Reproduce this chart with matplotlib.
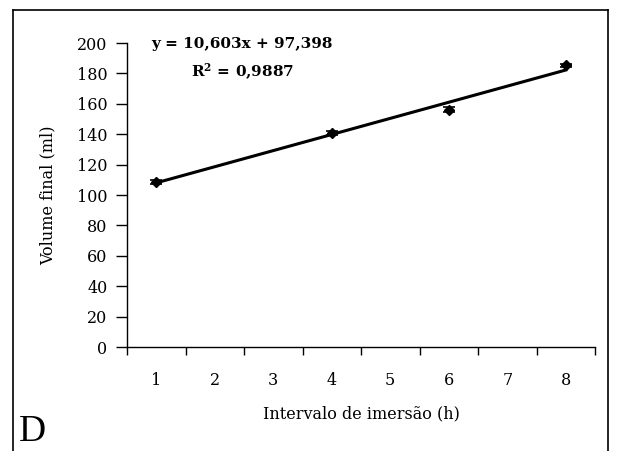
import matplotlib
matplotlib.use("Agg")
import matplotlib.pyplot as plt
from matplotlib.lines import Line2D
import numpy as np

# Data
categories = [1, 2, 3, 4, 5, 6, 7, 8]
x_obs = [1, 4, 6, 8]
y_obs = [108.5, 140.8, 156.2, 185.3]
y_err = [1.5, 1.2, 1.5, 1.2]
slope = 10.603
intercept = 97.398
eq_text = "y = 10,603x + 97,398"
r2_text = "R$^{\\mathbf{2}}$ = 0,9887"
yticks = [0, 20, 40, 60, 80, 100, 120, 140, 160, 180, 200]

plt.rcParams['font.family'] = ['DejaVu Serif']
plt.rcParams['mathtext.fontset'] = 'dejavuserif'

fig = plt.figure(figsize=(6.17, 4.51), dpi=100)
ax = fig.add_axes([127/617, 1-347/451, (595-127)/617, (347-43)/451])

ax.errorbar(x_obs, y_obs, yerr=y_err, fmt='D', color='black', markersize=5,
            capsize=4, elinewidth=1.2, capthick=1.2, zorder=3)
xl = np.array([min(x_obs), max(x_obs)])
ax.plot(xl, slope*xl + intercept, color='black', lw=2.2, zorder=2)

ax.set_xlim(0.5, 8.5)
ax.set_ylim(0, 200)
ax.set_yticks(yticks)
ax.set_xticks(categories)
ax.set_xticks([c - 0.5 for c in categories] + [8.5], minor=True)
ax.tick_params(axis='x', which='major', length=0, pad=18, labelsize=11.5)
ax.tick_params(axis='x', which='minor', length=6, direction='out', width=1)
ax.tick_params(axis='y', length=8, direction='out', pad=6, labelsize=11.5, width=1)
for s in ['top', 'right']:
    ax.spines[s].set_visible(False)
for s in ['left', 'bottom']:
    ax.spines[s].set_linewidth(1)

ax.set_xlabel("Intervalo de imersão (h)", fontsize=11.5, labelpad=12)
ax.set_ylabel("Volume final (ml)", fontsize=11.5, labelpad=15)

ax.text(242/617, 1-44/451, eq_text, transform=fig.transFigure, fontsize=11,
        fontweight='bold', ha='center', va='center')
ax.text(243/617, 1-72/451, r2_text, transform=fig.transFigure, fontsize=11,
        fontweight='bold', ha='center', va='center')

fig.text(19/617, 1-441/451, "D", fontsize=27, ha='left', va='baseline',
         family='Liberation Serif')

# outer frame (left, top, right)
fx0, fx1, fy1 = 13/617, 608/617, 1-10/451
for xs, ys in [([fx0, fx0], [0, fy1]), ([fx0, fx1], [fy1, fy1]), ([fx1, fx1], [fy1, 0])]:
    fig.add_artist(Line2D(xs, ys, transform=fig.transFigure, color='black', lw=1.2))

fig.savefig("out.png", dpi=100)
